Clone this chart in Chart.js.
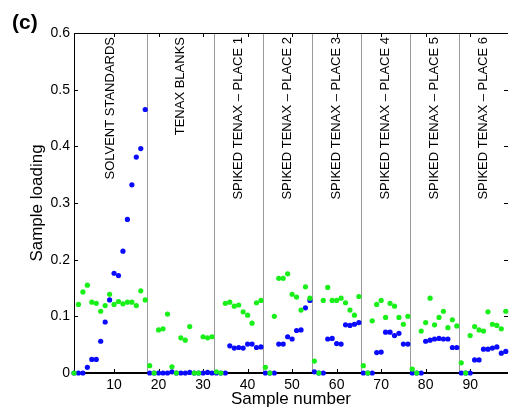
<!DOCTYPE html>
<html lang="en">
<head>
<meta charset="UTF-8">
<title>Sample loading</title>
<script src="https://cdn.jsdelivr.net/npm/chart.js"></script>
<style>
  html, body { margin: 0; padding: 0; background: #fff; overflow: hidden; }
  #wrap { width: 512px; height: 412px; }
</style>
</head>
<body>
<div id="wrap"><canvas id="chart" width="512" height="412"></canvas></div>
<script>
// sample loadings, samples 1..98
const blueLoading = [
  0, 0, 0, 0.010, 0.024, 0.024, 0.056, 0.090, 0.129, 0.176,
  0.172, 0.215, 0.271, 0.332, 0.381, 0.396, 0.465, 0, 0, 0,
  0, 0, 0.002, 0, 0, 0, 0.001, 0, 0, 0,
  0.001, 0, 0, 0, 0, 0.048, 0.044, 0.045, 0.044, 0.051,
  0.051, 0.045, 0.046, 0, 0, 0, 0.051, 0.051, 0.064, 0.060,
  0.075, 0.076, 0.115, 0.128, 0.002, 0, 0, 0.060, 0.061, 0.052,
  0.051, 0.085, 0.084, 0.086, 0.089, 0, 0, 0, 0.036, 0.037,
  0.072, 0.072, 0.066, 0.070, 0.051, 0.051, 0, 0, 0, 0.056,
  0.058, 0.060, 0.061, 0.060, 0.060, 0.045, 0.045, 0, 0, 0,
  0.023, 0.023, 0.042, 0.042, 0.044, 0.046, 0.035, 0.038
];
const greenLoading = [
  0, 0.121, 0.143, 0.155, 0.125, 0.123, 0.109, 0.119, 0.139, 0.121,
  0.126, 0.122, 0.125, 0.125, 0.119, 0.145, 0.129, 0.013, 0, 0.076,
  0.078, 0.104, 0.011, 0, 0.062, 0.058, 0.082, 0, 0, 0.064,
  0.062, 0.064, 0.002, 0, 0.123, 0.125, 0.118, 0.120, 0.108, 0.102,
  0.088, 0.124, 0.128, 0.010, 0, 0.100, 0.167, 0.167, 0.175, 0.139,
  0.134, 0.111, 0.152, 0.132, 0.021, 0, 0.128, 0.151, 0.128, 0.128,
  0.132, 0.124, 0.111, 0.102, 0.135, 0.013, 0, 0.092, 0.121, 0.128,
  0.098, 0.123, 0.118, 0.098, 0.086, 0.100, 0.007, 0, 0.074, 0.089,
  0.132, 0.085, 0.098, 0.109, 0.080, 0.094, 0.083, 0.018, 0, 0.066,
  0.082, 0.076, 0.074, 0.108, 0.086, 0.084, 0.078, 0.109
];
const xTicks = [10, 20, 30, 40, 50, 60, 70, 80, 90];
const yTicks = [0, 0.1, 0.2, 0.3, 0.4, 0.5, 0.6];
const yTickLabels = ['0', '0.1', '0.2', '0.3', '0.4', '0.5', '0.6'];
// boundaries between sample groups (sample number)
const groupEdges = [17.5, 32.5, 43.5, 54.5, 65.5, 76.5, 87.5];
const groupNames = [
  'SOLVENT STANDARDS', 'TENAX BLANKS',
  'SPIKED TENAX \u2013 PLACE 1', 'SPIKED TENAX \u2013 PLACE 2', 'SPIKED TENAX \u2013 PLACE 3',
  'SPIKED TENAX \u2013 PLACE 4', 'SPIKED TENAX \u2013 PLACE 5', 'SPIKED TENAX \u2013 PLACE 6'
];

const FONT = '"Liberation Sans", Arial, sans-serif';
Chart.defaults.font.family = FONT;
Chart.defaults.color = '#000';

const toPoints = arr => arr.map((v, i) => ({ x: i + 1, y: v }));

// frame, inward ticks, group separators and labels
const decor = {
  id: 'decor',
  beforeDatasetsDraw(chart) {
    const { ctx, chartArea: a, scales: { x, y } } = chart;
    ctx.save();

    ctx.strokeStyle = '#9a9a9a';
    ctx.lineWidth = 1;
    groupEdges.forEach(v => {
      const px = Math.round(x.getPixelForValue(v)) + 0.5;
      ctx.beginPath();
      ctx.moveTo(px, a.top);
      ctx.lineTo(px, a.bottom);
      ctx.stroke();
    });

    ctx.fillStyle = '#000';
    ctx.font = '13px ' + FONT;
    ctx.textAlign = 'right';
    ctx.textBaseline = 'middle';
    const bounds = [x.min, ...groupEdges, x.max];
    groupNames.forEach((t, i) => {
      const cx = x.getPixelForValue((bounds[i] + bounds[i + 1]) / 2);
      ctx.save();
      ctx.translate(cx, a.top + 4);
      ctx.rotate(-Math.PI / 2);
      ctx.fillText(t, 0, 0);
      ctx.restore();
    });

    // ticks pointing inward
    ctx.strokeStyle = '#000';
    ctx.lineWidth = 1;
    const tl = 4;
    xTicks.forEach(v => {
      const px = Math.round(x.getPixelForValue(v)) + 0.5;
      ctx.beginPath();
      ctx.moveTo(px, a.bottom); ctx.lineTo(px, a.bottom - tl);
      ctx.moveTo(px, a.top); ctx.lineTo(px, a.top + tl);
      ctx.stroke();
    });
    yTicks.forEach(v => {
      const py = Math.round(y.getPixelForValue(v)) + 0.5;
      ctx.beginPath();
      ctx.moveTo(a.left, py); ctx.lineTo(a.left + tl, py);
      ctx.moveTo(a.right, py); ctx.lineTo(a.right - tl, py);
      ctx.stroke();
    });

    // frame
    ctx.beginPath();
    ctx.moveTo(a.left + 0.5, a.bottom);
    ctx.lineTo(a.left + 0.5, a.top + 0.5);
    ctx.lineTo(a.right, a.top + 0.5);
    ctx.stroke();
    ctx.lineWidth = 2;
    ctx.beginPath();
    ctx.moveTo(a.left, a.bottom);
    ctx.lineTo(a.right, a.bottom);
    ctx.stroke();

    // panel letter
    ctx.font = 'bold 21px ' + FONT;
    ctx.textAlign = 'left';
    ctx.textBaseline = 'alphabetic';
    ctx.fillText('(c)', 12, 29);
    ctx.restore();
  }
};

new Chart(document.getElementById('chart'), {
  type: 'scatter',
  data: {
    datasets: [
      {
        label: 'green',
        data: toPoints(greenLoading),
        backgroundColor: '#19f019',
        borderWidth: 0,
        pointRadius: 2.6,
        clip: false
      },
      {
        label: 'blue',
        data: toPoints(blueLoading),
        backgroundColor: '#0a0aff',
        borderWidth: 0,
        pointRadius: 2.6,
        clip: false
      }
    ]
  },
  options: {
    responsive: false,
    animation: false,
    layout: { padding: { top: 33, left: 0, right: 0, bottom: 0 } },
    plugins: { legend: { display: false }, tooltip: { enabled: false } },
    scales: {
      x: {
        type: 'linear',
        min: 1,
        max: 98.5,
        grid: { display: false, drawTicks: false },
        border: { display: false },
        afterBuildTicks: s => { s.ticks = xTicks.map(v => ({ value: v })); },
        afterFit: s => { s.height = 39; },
        ticks: { padding: 4, font: { size: 14 }, color: '#000' },
        title: { display: true, text: 'Sample number', font: { size: 17 }, color: '#000', padding: { top: 0, bottom: 2 } }
      },
      y: {
        min: 0,
        max: 0.6,
        grid: { display: false, drawTicks: false },
        border: { display: false },
        afterBuildTicks: s => { s.ticks = yTicks.map(v => ({ value: v })); },
        afterFit: s => { s.width = 74; },
        ticks: { padding: 4, font: { size: 14 }, color: '#000', callback: (v, i) => yTickLabels[i] },
        title: { display: true, text: 'Sample loading', font: { size: 17 }, color: '#000', padding: { top: 27, bottom: 0 } }
      }
    }
  },
  plugins: [decor]
});
</script>
</body>
</html>
